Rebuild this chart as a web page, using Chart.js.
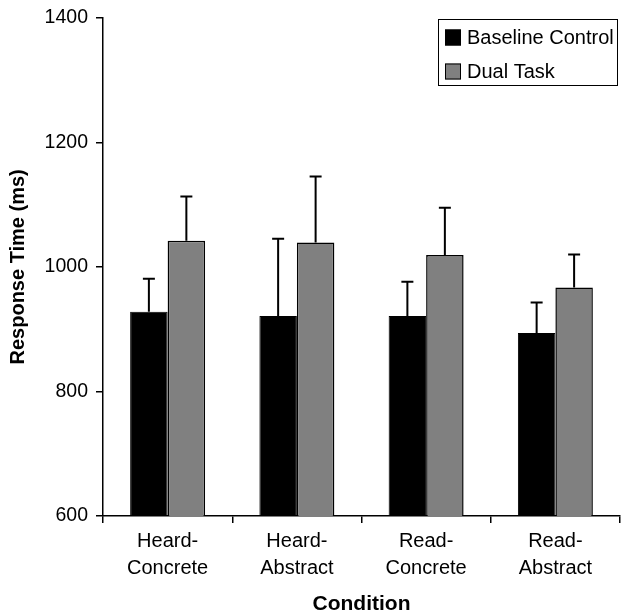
<!DOCTYPE html>
<html>
<head>
<meta charset="utf-8">
<script src="https://cdn.jsdelivr.net/npm/chart.js@4/dist/chart.umd.min.js"></script>
<style>
  html, body { margin: 0; padding: 0; background: #fff; }
  #wrap { width: 625px; height: 613px; }
</style>
</head>
<body>
<div id="wrap"><canvas id="myChart" width="625" height="613"></canvas></div>
<script>
const conditions = [['Heard-', 'Concrete'], ['Heard-', 'Abstract'], ['Read-', 'Concrete'], ['Read-', 'Abstract']]
const baselineMeans = [928, 921, 921, 894]
const baselineErrors = [53, 124, 55, 49]
const dualMeans = [1042, 1039, 1019, 967]
const dualErrors = [71, 106, 76, 53]
const yTicks = [600, 800, 1000, 1200, 1400]

const font = 'Arial, "Liberation Sans", sans-serif'

// upward-only error bars with a small cap
const errorBars = {
    id: 'errorBars',
    afterDatasetsDraw(chart) {
        const ctx = chart.ctx
        const y = chart.scales.y
        ctx.save()
        ctx.strokeStyle = '#000'
        ctx.lineWidth = 2
        chart.data.datasets.forEach((ds, i) => {
            chart.getDatasetMeta(i).data.forEach((bar, j) => {
                const top = y.getPixelForValue(ds.data[j] + ds.errors[j])
                ctx.beginPath()
                ctx.moveTo(bar.x, bar.y)
                ctx.lineTo(bar.x, top)
                ctx.moveTo(bar.x - 6, top)
                ctx.lineTo(bar.x + 6, top)
                ctx.stroke()
            })
        })
        ctx.restore()
    }
}

// boxed legend in the top right corner of the plot
const boxLegend = {
    id: 'boxLegend',
    afterDraw(chart) {
        const ctx = chart.ctx
        const area = chart.chartArea
        const left = area.right - 182, top = 19, w = 179, h = 66
        ctx.save()
        ctx.fillStyle = '#fff'
        ctx.fillRect(left, top, w, h)
        ctx.strokeStyle = '#000'
        ctx.lineWidth = 1
        ctx.strokeRect(left + 0.5, top + 0.5, w, h)
        ctx.font = '20px ' + font
        ctx.textBaseline = 'middle'
        chart.data.datasets.forEach((ds, i) => {
            const cy = top + 18.5 + i * 34
            ctx.fillStyle = ds.backgroundColor
            ctx.fillRect(left + 7, cy - 8, 16, 16)
            ctx.strokeStyle = '#000'
            ctx.strokeRect(left + 7.5, cy - 7.5, 15, 15)
            ctx.fillStyle = '#000'
            ctx.fillText(ds.label, left + 29, cy + 1)
        })
        ctx.restore()
    }
}

new Chart(document.getElementById('myChart').getContext('2d'), {
    type: 'bar',
    data: {
        labels: conditions,
        datasets: [{
            label: 'Baseline Control',
            data: baselineMeans,
            errors: baselineErrors,
            backgroundColor: '#000000',
            borderColor: '#000000',
            borderWidth: 1,
            categoryPercentage: 0.58,
            barPercentage: 1.0
        },
        {
            label: 'Dual Task',
            data: dualMeans,
            errors: dualErrors,
            backgroundColor: '#808080',
            borderColor: '#000000',
            borderWidth: 1.5,
            categoryPercentage: 0.58,
            barPercentage: 1.0
        }]
    },
    options: {
        responsive: false,
        animation: false,
        devicePixelRatio: 1,
        layout: { padding: { top: 17, right: 5, left: 0, bottom: 0 } },
        plugins: {
            legend: { display: false },
            tooltip: { enabled: false }
        },
        scales: {
            x: {
                offset: true,
                border: { color: '#000', width: 1.5 },
                grid: { offset: true, drawOnChartArea: false, drawTicks: true, tickLength: 7, color: '#000', lineWidth: 1.5 },
                ticks: { color: '#000', font: { family: font, size: 20, lineHeight: 1.35 }, padding: 5, maxRotation: 0 },
                title: { display: true, text: 'Condition', color: '#000', font: { family: font, size: 21, weight: 'bold', lineHeight: 0.8 }, padding: { top: 0, bottom: 0 } },
                afterFit: s => { s.height = 97 }
            },
            y: {
                min: 600,
                max: 1400,
                afterBuildTicks: s => { s.ticks = yTicks.map(v => ({ value: v })) },
                border: { color: '#000', width: 1.5 },
                grid: { drawOnChartArea: false, drawTicks: true, tickLength: 7, color: '#000', lineWidth: 1.5 },
                ticks: { color: '#000', font: { family: font, size: 19.5, lineHeight: 1.0 }, padding: 8, callback: v => String(v) },
                title: { display: true, text: 'Response Time (ms)', color: '#000', font: { family: font, size: 20, weight: 'bold' }, padding: { top: 6.5, bottom: 0 } },
                afterFit: s => { s.width = 103 }
            }
        }
    },
    plugins: [errorBars, boxLegend]
})
</script>
</body>
</html>
